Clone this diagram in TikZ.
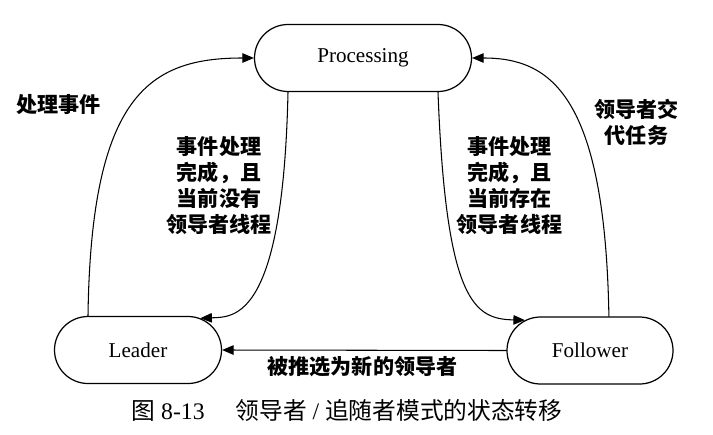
\documentclass[tikz,border=0pt]{standalone}
\usepackage{fontspec}
\setmainfont{Liberation Serif}
\newfontfamily\cjk{Noto Sans CJK SC}
\usetikzlibrary{arrows.meta,positioning,shapes.misc}

\begin{document}
\begin{tikzpicture}[x=1cm,y=1cm,line cap=round,line join=round,
  state/.style={draw,rounded rectangle,line width=.7pt,minimum height=1.34cm,inner sep=0pt,font=\fontsize{12}{14}\selectfont},
  trans/.style={line width=.6pt,-{Triangle[length=2.3mm,width=1.9mm]}},
  lbl/.style={font=\cjk\bfseries\fontsize{12}{14.8}\selectfont,align=center,inner sep=0pt}]
  \path[use as bounding box] (0,0) rectangle (14.26,8.68);

  \node[state,minimum width=4.34cm] (proc) at (7.26,7.52) {Processing};
  \node[state,minimum width=3.34cm] (leader) at (2.76,1.68) {Leader};
  \node[state,minimum width=3.32cm] (follower) at (11.8,1.67) {Follower};

  \draw[trans] (leader.north west) .. controls (1.82,6.8) and (3.0,7.52) .. (proc.west);
  \draw[trans] (proc.south west) .. controls (5.66,2.3) and (4.7,2.34) .. (leader.27);
  \draw[trans] (proc.south east) .. controls (8.92,2.6) and (9.5,2.3) .. (follower.155);
  \draw[trans] (follower.61) .. controls (12.1,6.8) and (11.0,7.52) .. (proc.east);
  \draw[trans] (follower.west) -- (leader.east);

  \node[lbl] (l1) at (1.17,6.58) {处理事件};
  \node[lbl] (l2) at (4.38,4.96) {事件处理\\完成，且\\当前没有\\领导者线程};
  \node[lbl] (l3) at (10.19,4.96) {事件处理\\完成，且\\当前存在\\领导者线程};
  \node[lbl] (l4) at (12.73,6.24) {领导者交\\代任务};
  \node[lbl] (l5) at (7.25,1.34) {被推选为新的领导者};

  \node[font=\fontsize{13.5}{15}\selectfont,inner sep=0pt] (cap) at (6.94,0.48)
    {{\cjk 图} 8-13\hspace{1.3em}{\cjk 领导者} / {\cjk 追随者模式的状态转移}};
\end{tikzpicture}
\end{document}
